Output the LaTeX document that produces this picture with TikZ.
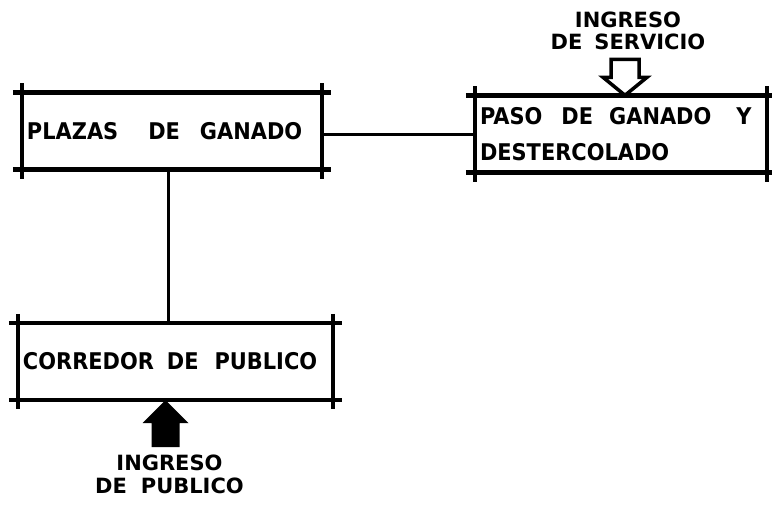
\documentclass[tikz,border=0pt]{standalone}
\usepackage{fontspec}
\setmainfont{DejaVu Sans}
\newfontfamily\planfont{DejaVu Sans}[FakeStretch=0.91]
\usetikzlibrary{positioning}

\tikzset{
	area/.style={minimum height=77pt, inner xsep=5pt, align=left,
		font=\planfont\fontsize{23}{36}\selectfont\bfseries},
	tag/.style={inner sep=0pt, align=center, font=\fontsize{21}{22.5}\selectfont\bfseries},
	frame/.style={line width=4.5pt},
	link/.style={line width=3pt}
}

\begin{document}
\begin{tikzpicture}[x=1pt, y=-1pt]
		\useasboundingbox (0, 0) rectangle (772, 504);
		% Areas of the plan.
		\node[area, text width=290pt] (plazas) at (172, 131)
			{PLAZAS\hspace{30pt}DE\hspace{20pt}GANADO};
		\node[area, text width=282pt] (paso) at (621, 134)
			{PASO\hspace{19pt}DE\hspace{16pt}GANADO\hspace{25pt}Y\\DESTERCOLADO};
		\node[area, text width=305pt] (corredor) at (175.5, 361.5)
			{CORREDOR\hspace{13pt}DE\hspace{16pt}PUBLICO};
		\foreach \n in {plazas, paso, corredor} {
			\draw[frame] ([xshift=-9pt]\n.north west) -- ([xshift=9pt]\n.north east);
			\draw[frame] ([xshift=-9pt]\n.south west) -- ([xshift=9pt]\n.south east);
			\draw[frame] ([yshift=9pt]\n.north west) -- ([yshift=-9pt]\n.south west);
			\draw[frame] ([yshift=9pt]\n.north east) -- ([yshift=-9pt]\n.south east);
		}
		% Links between areas.
		\draw[link] (paso.west -| plazas.east) -- (paso.west);
		\draw[link] ([xshift=-4pt]plazas.south) -- ([xshift=-4pt]plazas.south |- corredor.north);
		% Service entrance (hollow arrow).
		\coordinate (srv) at ([xshift=4pt]paso.north);
		\draw[line width=3.5pt, line join=miter] (srv) -- ++(-22, -18) -- ++(8, 0) -- ++(0, -18)
			-- ++(28, 0) -- ++(0, 18) -- ++(8, 0) -- cycle;
		\node[tag, anchor=south] (srvtag) at ([xshift=3pt, yshift=45pt]srv)
			{INGRESO\\DE\hspace{12pt}SERVICIO};
		% Public entrance (filled arrow).
		\coordinate (pub) at ([xshift=-10pt]corredor.south);
		\fill (pub) -- ++(23, 23) -- ++(-9, 0) -- ++(0, 24) -- ++(-28, 0) -- ++(0, -24)
			-- ++(-9, 0) -- cycle;
		\node[tag, anchor=north] (pubtag) at ([xshift=4pt, yshift=-55pt]pub)
			{INGRESO\\DE\hspace{14pt}PUBLICO};
	\end{tikzpicture}
\end{document}
